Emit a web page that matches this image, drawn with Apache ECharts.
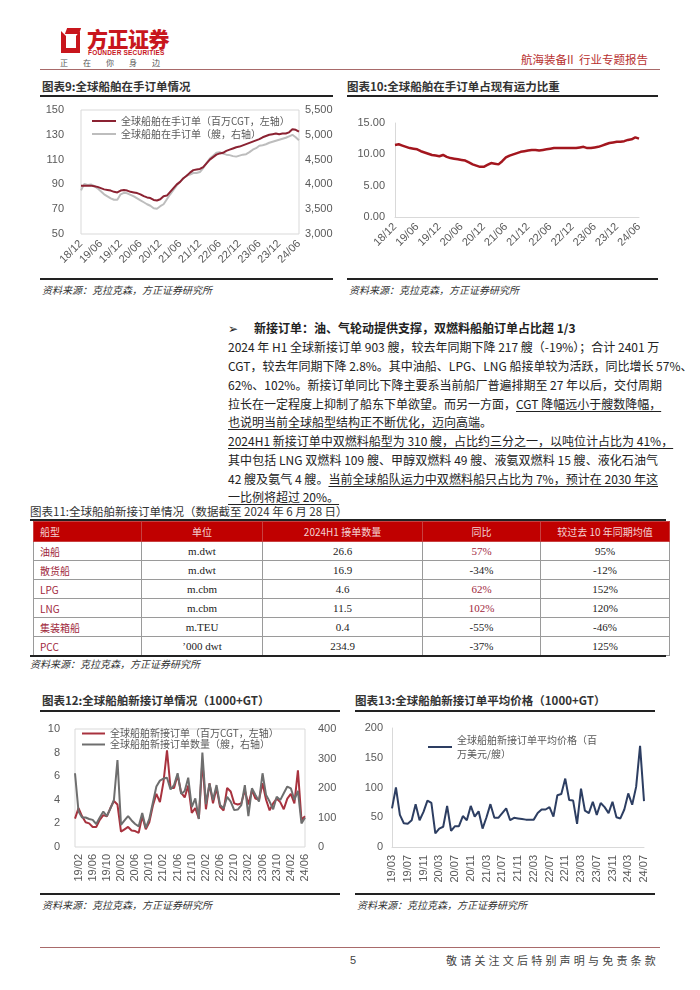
<!DOCTYPE html>
<html><head><meta charset="utf-8">
<script src="https://cdn.jsdelivr.net/npm/echarts@6/dist/echarts.min.js"></script>
<style>
html,body{margin:0;padding:0;background:#fff;}
body{width:700px;height:990px;position:relative;overflow:hidden;font-family:"Noto Sans CJK SC","Noto Sans",sans-serif;color:#222;}
.abs{position:absolute;}
.ttl{position:absolute;font-size:11.5px;font-weight:bold;color:#333;white-space:nowrap;line-height:14px;}
.rule{position:absolute;height:2px;background:#222;}
.src{position:absolute;font-size:10px;font-style:italic;color:#333;white-space:nowrap;line-height:12px;}
.ln{position:absolute;left:228px;width:430px;font-size:12px;line-height:19px;height:19px;white-space:nowrap;text-align:justify;text-align-last:justify;color:#222;}
.ln.last{text-align-last:left;}
.u{text-decoration:underline;text-underline-offset:2px;}
#tbl{position:absolute;left:33px;top:521px;border-collapse:collapse;table-layout:fixed;}
#tbl th{background:#C00000;color:#F4D2D2;font-weight:normal;font-size:10px;height:19px;border:1px solid #C84040;padding:0;text-align:center;}
#tbl td{border:1px solid #9a9a9a;height:18px;padding:0;text-align:center;font-family:"Liberation Serif","Times New Roman",serif;font-size:11px;color:#222;}
#tbl th.c0{text-align:left;padding-left:6px;}
#tbl td.c0{text-align:left;padding-left:6px;color:#A0283C;font-family:"Noto Sans CJK SC",sans-serif;font-size:10px;}
#tbl td.pos{color:#A0283C;}
.chart{position:absolute;}
</style></head>
<body>
<!-- header -->
<div class="abs" style="left:61px;top:31px;width:10px;height:12px;border:5px solid #C8161D;border-right-width:4px;border-top-color:transparent;border-right-color:#C8161D;"></div>
<div class="abs" style="left:66px;top:28px;width:14px;height:6px;background:#C8161D;transform:skewX(-20deg);"></div>
<div class="abs" style="left:87px;top:26px;font-size:21px;font-weight:900;color:#C8161D;letter-spacing:-0.5px;line-height:25px;">方正证券</div>
<div class="abs" style="left:88px;top:49px;font-size:6.5px;font-weight:bold;color:#C8161D;line-height:8px;font-family:'Liberation Sans',sans-serif;letter-spacing:0.2px;">FOUNDER SECURITIES</div>
<div class="abs" style="left:60px;top:58px;font-size:8px;color:#555;line-height:10px;letter-spacing:15px;">正在你身边</div>
<div class="abs" style="left:521px;top:52px;font-size:11.5px;color:#B8312F;line-height:14px;white-space:nowrap;">航海装备II&nbsp;&nbsp;行业专题报告</div>
<div class="abs" style="left:40px;top:69px;width:620px;height:1px;background:#A86A6A;"></div>

<!-- chart 9 -->
<div class="ttl" style="left:42px;top:79px;">图表9:全球船舶在手订单情况</div>
<div class="rule" style="left:40px;top:95px;width:293px;"></div>
<div id="c9" class="chart" style="left:30px;top:100px;width:310px;height:176px;"></div>
<div class="rule" style="left:40px;top:278px;width:293px;"></div>
<div class="src" style="left:42px;top:284px;">资料来源：克拉克森，方正证券研究所</div>

<!-- chart 10 -->
<div class="ttl" style="left:347px;top:79px;">图表10:全球船舶在手订单占现有运力比重</div>
<div class="rule" style="left:347px;top:95px;width:311px;"></div>
<div id="c10" class="chart" style="left:347px;top:100px;width:313px;height:176px;"></div>
<div class="rule" style="left:347px;top:278px;width:311px;"></div>
<div class="src" style="left:349px;top:284px;">资料来源：克拉克森，方正证券研究所</div>

<!-- text -->
<div class="abs" style="left:228px;top:318px;font-size:12px;line-height:19px;">➢</div>
<div class="abs" style="left:254px;top:318px;font-size:12px;line-height:19px;font-weight:bold;white-space:nowrap;">新接订单：油、气轮动提供支撑，双燃料船舶订单占比超 1/3</div>
<div class="ln" style="top:337px;">2024 年 H1 全球新接订单 903 艘，较去年同期下降 217 艘（-19%）；合计 2401 万</div>
<div class="ln" style="top:356px;">CGT，较去年同期下降 2.8%。其中油船、LPG、LNG 船接单较为活跃，同比增长 57%、</div>
<div class="ln" style="top:375px;">62%、102%。新接订单同比下降主要系当前船厂普遍排期至 27 年以后，交付周期</div>
<div class="ln" style="top:394px;">拉长在一定程度上抑制了船东下单欲望。而另一方面，<span class="u">CGT 降幅远小于艘数降幅，</span></div>
<div class="ln last" style="top:412px;"><span class="u">也说明当前全球船型结构正不断优化，迈向高端</span>。</div>
<div class="ln" style="top:431px;"><span class="u">2024H1 新接订单中双燃料船型为 310 艘，占比约三分之一，以吨位计占比为 41%，</span></div>
<div class="ln" style="top:450px;">其中包括 LNG 双燃料 109 艘、甲醇双燃料 49 艘、液氨双燃料 15 艘、液化石油气</div>
<div class="ln" style="top:469px;">42 艘及氨气 4 艘。<span class="u">当前全球船队运力中双燃料船只占比为 7%，预计在 2030 年这</span></div>
<div class="ln last" style="top:487px;"><span class="u">一比例将超过 20%。</span></div>

<!-- table -->
<div class="ttl" style="left:30px;top:504px;font-weight:normal;font-size:11.5px;">图表11:全球船舶新接订单情况（数据截至 2024 年 6 月 28 日）</div>
<div class="abs" style="left:30px;top:519px;width:636px;height:2px;background:#222;"></div>
<table id="tbl"><thead><tr id="thr"></tr></thead><tbody id="tbd"></tbody></table>
<div class="abs" style="left:30px;top:655px;width:636px;height:2px;background:#222;"></div>
<div class="src" style="left:30px;top:658px;">资料来源：克拉克森，方正证券研究所</div>

<!-- chart 12 -->
<div class="ttl" style="left:42px;top:693px;">图表12:全球船舶新接订单情况（1000+GT）</div>
<div class="rule" style="left:40px;top:710px;width:300px;"></div>
<div id="c12" class="chart" style="left:40px;top:714px;width:300px;height:178px;"></div>
<div class="rule" style="left:40px;top:893px;width:300px;"></div>
<div class="src" style="left:42px;top:899px;">资料来源：克拉克森，方正证券研究所</div>

<!-- chart 13 -->
<div class="ttl" style="left:355px;top:693px;">图表13:全球船舶新接订单平均价格（1000+GT）</div>
<div class="rule" style="left:355px;top:710px;width:300px;"></div>
<div id="c13" class="chart" style="left:347px;top:714px;width:313px;height:178px;"></div>
<div class="rule" style="left:355px;top:893px;width:300px;"></div>
<div class="src" style="left:357px;top:899px;">资料来源：克拉克森，方正证券研究所</div>

<!-- footer -->
<div class="abs" style="left:40px;top:947px;width:620px;height:1px;background:#A86A6A;"></div>
<div class="abs" style="left:350px;top:953px;font-size:11px;color:#444;line-height:14px;font-family:'Liberation Sans',sans-serif;">5</div>
<div class="abs" style="left:446px;top:953px;font-size:11px;color:#444;line-height:14px;letter-spacing:3.2px;white-space:nowrap;">敬请关注文后特别声明与免责条款</div>

<script>
function monthLabels(y0, m0, y1, m1) {
  const out = []; let y = y0, m = m0;
  while (y < y1 || (y === y1 && m <= m1)) {
    out.push(String(y).padStart(2, '0') + '/' + String(m).padStart(2, '0'));
    m++; if (m > 12) { m = 1; y++; }
  }
  return out;
}

// ---------- Chart 9 data (18/12 - 24/06, monthly) ----------
const months9 = monthLabels(18, 12, 24, 6);
const backlogCGT = [89,89,89,89,88.5,88,87,86,85.5,85,84,83.5,85,85.5,85,84,83.5,83,82,80.5,79.5,79,77.5,77,78,80.5,81,84,87,90,92,95,97,99.5,101.5,102,102.5,104,107,110,112,114,115,115.5,117,118,119,120,120.5,121.5,122.5,123.5,124.5,125.5,126.5,128,129,130,130.5,131,130.5,131,131,132,134.5,134,132.5];
const backlogShips = [3880,4010,3990,4000,3970,3920,3860,3800,3760,3720,3690,3690,3800,3830,3820,3790,3760,3720,3680,3640,3600,3570,3520,3510,3560,3600,3700,3800,3890,3980,4050,4120,4180,4200,4230,4230,4250,4330,4430,4520,4580,4640,4650,4620,4600,4590,4570,4560,4580,4600,4610,4650,4700,4730,4780,4790,4810,4840,4860,4880,4900,4920,4940,4970,5000,4950,4890];
const name9a = '全球船舶在手订单（百万CGT，左轴）';
const name9b = '全球船舶在手订单（艘，右轴）';

// ---------- Chart 10 data ----------
const months10 = monthLabels(18, 12, 24, 6);
const backlogRatio = [11.5,11.6,11.4,11.2,11.0,10.9,10.8,10.5,10.3,10.1,9.9,9.8,9.7,9.9,9.6,9.4,9.3,9.2,9.1,9.0,8.7,8.4,8.2,8.0,8.0,8.3,8.6,8.5,8.4,8.9,9.5,9.8,10.0,10.2,10.4,10.5,10.6,10.7,10.7,10.6,10.7,10.8,10.9,11.0,11.0,11.0,11.0,11.0,11.0,11.0,11.1,11.2,11.0,11.0,11.1,11.2,11.4,11.6,11.8,11.9,12.0,12.0,12.1,12.3,12.4,12.7,12.5];

// ---------- Chart 12 data (19/01 - 24/06) ----------
const months12 = monthLabels(19, 1, 24, 6);
const newCGT = [2.4,3.3,2.6,2.1,2.0,1.7,1.7,2.3,2.7,2.6,3.3,3.9,3.6,1.3,1.5,1.7,1.4,1.35,1.2,2.6,1.5,2.1,3.5,4.5,3.8,5.5,8.2,5.0,5.0,6.1,4.6,4.2,5.2,2.9,3.3,2.4,7.3,3.2,5.4,3.7,5.0,3.4,3.1,5.0,4.7,3.7,3.6,3.7,4.8,3.6,4.8,4.1,4.0,5.4,4.0,3.1,3.7,4.1,3.8,3.2,4.1,4.5,3.7,6.5,2.3,2.6];
const newShips = [250,120,100,100,95,92,78,100,120,105,130,160,295,75,90,105,90,78,70,115,65,95,150,205,225,232,235,195,210,250,180,190,235,135,165,95,320,145,215,159,210,142,131,170,154,125,127,142,210,105,199,176,154,250,176,154,128,170,159,182,205,199,160,190,80,99];
const name12a = '全球船舶新接订单（百万CGT，左轴）';
const name12b = '全球船舶新接订单数量（艘，右轴）';

// ---------- Chart 13 data (19/03 - 24/07) ----------
const months13 = monthLabels(19, 3, 24, 7);
const avgPrice = [65,100,54,40,39,45,72,45,59,78,74,23,31,34,69,27,35,35,52,45,69,51,60,31,50,72,49,49,57,65,45,49,48,47,46,46,46,57,63,63,67,51,87,89,115,79,78,39,98,61,57,76,54,74,67,57,76,50,48,63,90,71,101,170,77];
const name13 = '全球船舶新接订单平均价格（百万美元/艘）';

// ---------- Table 11 data ----------
const tblHeader = ['船型', '单位', '2024H1 接单数量', '同比', '较过去 10 年同期均值'];
const shipTypes = ['油船', '散货船', 'LPG', 'LNG', '集装箱船', 'PCC'];
const units = ['m.dwt', 'm.dwt', 'm.cbm', 'm.cbm', 'm.TEU', '\u2019000 dwt'];
const orders = ['26.6', '16.9', '4.6', '11.5', '0.4', '234.9'];
const yoy = ['57%', '-34%', '62%', '102%', '-55%', '-37%'];
const vs10y = ['95%', '-12%', '152%', '120%', '-46%', '125%'];
const colW = [101, 120, 159, 117, 128];

// build table
(function () {
  const thr = document.getElementById('thr');
  tblHeader.forEach((h, i) => {
    const th = document.createElement('th');
    th.textContent = h; th.style.width = colW[i] + 'px';
    if (i === 0) th.className = 'c0';
    thr.appendChild(th);
  });
  const tb = document.getElementById('tbd');
  shipTypes.forEach((s, r) => {
    const tr = document.createElement('tr');
    const vals = [s, units[r], orders[r], yoy[r], vs10y[r]];
    vals.forEach((v, i) => {
      const td = document.createElement('td');
      td.textContent = v;
      if (i === 0) td.className = 'c0';
      if (i === 3 && v.charAt(0) !== '-') td.className = 'pos';
      tr.appendChild(td);
    });
    tb.appendChild(tr);
  });
})();

const lab = { color: '#595959', fontSize: 11, fontFamily: '"Liberation Sans", Arial, sans-serif' };
const legTxt = { fontSize: 10, color: '#595959', fontFamily: '"Noto Sans CJK SC", sans-serif' };
const thou = v => String(v).replace(/\B(?=(\d{3})+(?!\d))/g, ',');

// Chart 9
echarts.init(document.getElementById('c9')).setOption({
  animation: false,
  grid: { left: 51, top: 10, width: 218, height: 124, show: true, borderColor: '#d9d9d9', borderWidth: 1 },
  legend: { left: 57, top: 10, orient: 'vertical', icon: 'rect', itemWidth: 24, itemHeight: 2, itemGap: 1,
    textStyle: Object.assign({ lineHeight: 12 }, legTxt), data: [name9a, name9b] },
  xAxis: { type: 'category', data: months9, boundaryGap: false, axisLine: { show: false }, axisTick: { show: false },
    axisLabel: Object.assign({ rotate: 45, interval: 5, margin: 8 }, lab) },
  yAxis: [
    { type: 'value', min: 50, max: 150, interval: 20, splitLine: { show: false }, axisLabel: Object.assign({ margin: 17 }, lab) },
    { type: 'value', min: 3000, max: 5500, interval: 500, splitLine: { show: false }, axisLabel: Object.assign({ margin: 6, formatter: thou }, lab) }
  ],
  series: [
    { name: name9b, type: 'line', yAxisIndex: 1, data: backlogShips, symbol: 'none', lineStyle: { color: '#BDBDBD', width: 2 }, itemStyle: { color: '#BDBDBD' } },
    { name: name9a, type: 'line', yAxisIndex: 0, data: backlogCGT, symbol: 'none', lineStyle: { color: '#8B2232', width: 2 }, itemStyle: { color: '#8B2232' } }
  ]
});

// Chart 10
echarts.init(document.getElementById('c10')).setOption({
  animation: false,
  grid: { left: 48, top: 23, width: 244, height: 94 },
  xAxis: { type: 'category', data: months10, boundaryGap: false, axisLine: { show: true, lineStyle: { color: '#d9d9d9' } }, axisTick: { show: false },
    axisLabel: Object.assign({ rotate: 45, interval: 5, margin: 8 }, lab) },
  yAxis: { type: 'value', min: 0, max: 15, interval: 5, splitLine: { show: false },
    axisLine: { show: true, lineStyle: { color: '#d9d9d9' } },
    axisLabel: Object.assign({ margin: 10, formatter: v => v.toFixed(2) }, lab) },
  series: [{ type: 'line', data: backlogRatio, symbol: 'none', lineStyle: { color: '#A3161E', width: 2.5 } }]
});

// Chart 12
echarts.init(document.getElementById('c12')).setOption({
  animation: false,
  grid: { left: 35, top: 15, width: 230, height: 118, show: true, borderColor: '#d9d9d9', borderWidth: 1 },
  legend: { left: 37, top: 9, orient: 'vertical', icon: 'rect', itemWidth: 23, itemHeight: 2, itemGap: 0,
    textStyle: Object.assign({ lineHeight: 11 }, legTxt), data: [name12a, name12b] },
  xAxis: { type: 'category', data: months12, boundaryGap: false, axisLine: { show: false }, axisTick: { show: false },
    axisLabel: Object.assign({ rotate: 90, interval: (i) => i % 4 === 1, margin: 7 }, lab) },
  yAxis: [
    { type: 'value', min: 0, max: 10, interval: 2, splitLine: { show: false }, axisLabel: Object.assign({ margin: 15 }, lab) },
    { type: 'value', min: 0, max: 400, interval: 100, splitLine: { show: false }, axisLabel: Object.assign({ margin: 13 }, lab) }
  ],
  series: [
    { name: name12a, type: 'line', yAxisIndex: 0, data: newCGT, symbol: 'none', lineStyle: { color: '#A8323E', width: 2 }, itemStyle: { color: '#A8323E' } },
    { name: name12b, type: 'line', yAxisIndex: 1, data: newShips, symbol: 'none', lineStyle: { color: '#6E6E6E', width: 2 }, itemStyle: { color: '#6E6E6E' } }
  ]
});

// Chart 13
echarts.init(document.getElementById('c13')).setOption({
  animation: false,
  grid: { left: 45, top: 14, width: 252, height: 119 },
  legend: { left: 81, top: 12, padding: 0, icon: 'rect', itemWidth: 24, itemHeight: 2,
    textStyle: Object.assign({ lineHeight: 14, padding: [14, 0, 0, 0] }, legTxt), data: [name13],
    formatter: () => '全球船舶新接订单平均价格（百\n万美元/艘）' },
  xAxis: { type: 'category', data: months13, boundaryGap: false, axisLine: { show: true, lineStyle: { color: '#d9d9d9' } }, axisTick: { show: false },
    axisLabel: Object.assign({ rotate: 90, interval: 3, margin: 8 }, lab) },
  yAxis: { type: 'value', min: 0, max: 200, interval: 50, splitLine: { show: false },
    axisLine: { show: true, lineStyle: { color: '#d9d9d9' } }, axisLabel: Object.assign({ margin: 9 }, lab) },
  series: [{ name: name13, type: 'line', data: avgPrice, symbol: 'none', lineStyle: { color: '#2D3E62', width: 2 }, itemStyle: { color: '#2D3E62' } }]
});
</script>
</body></html>
